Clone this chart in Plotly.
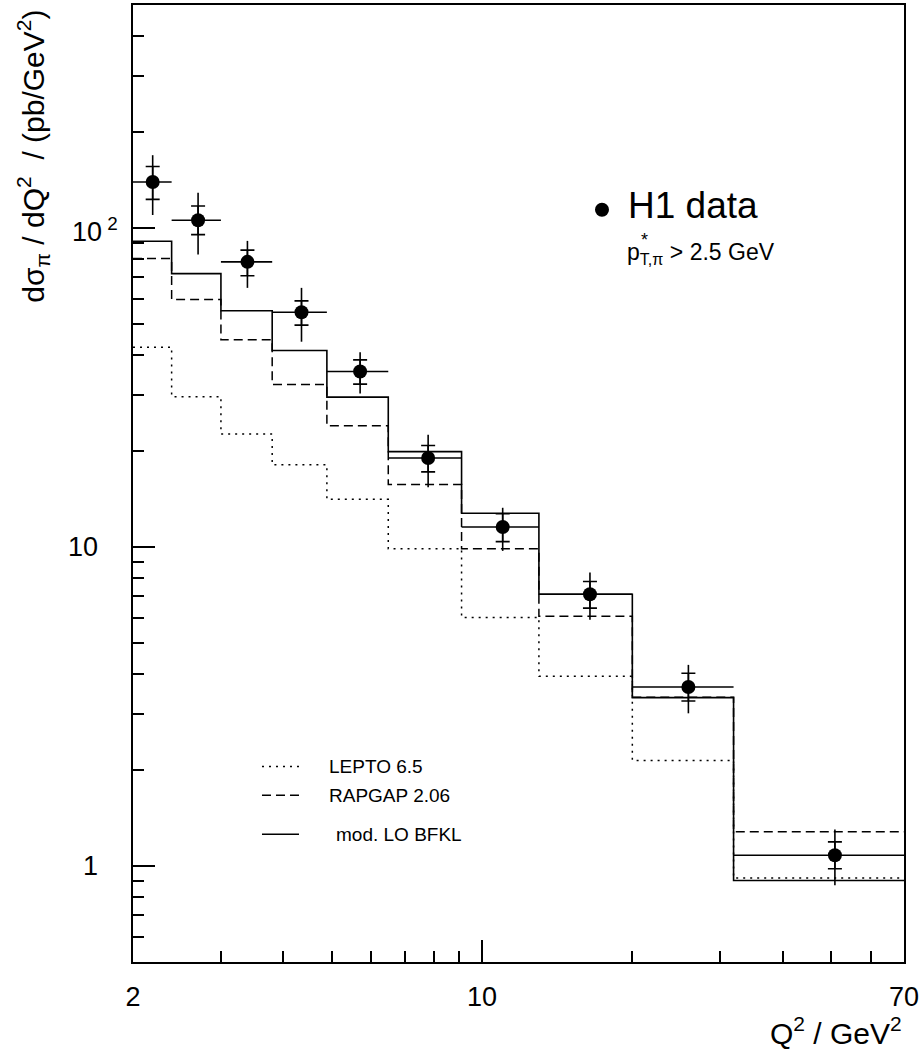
import numpy as np
import plotly.graph_objects as go

# ---------------- data ----------------
Q2_EDGES = [2.0, 2.39, 3.0, 3.8, 4.89, 6.49, 9.1, 13.0, 20.0, 31.9, 70.0]
Q2_DATA = [2.19, 2.70, 3.39, 4.35, 5.70, 7.80, 11.0, 16.45, 25.9, 50.9]
XSEC = [139.3, 105.7, 78.3, 54.4, 35.5, 19.0, 11.55, 7.11, 3.64, 1.08]
TOT_ERR_UP = [29.8, 23.2, 12.8, 10.5, 5.3, 3.5, 1.72, 1.20, 0.63, 0.22]
TOT_ERR_DN = [29.5, 23.2, 13.4, 10.4, 5.2, 3.6, 1.83, 1.20, 0.63, 0.21]
STAT_ERR_UP = [16.6, 11.5, 6.9, 4.7, 3.1, 1.8, 1.16, 0.68, 0.38, 0.11]
STAT_ERR_DN = [16.4, 10.4, 7.5, 4.8, 3.1, 1.8, 1.16, 0.68, 0.35, 0.10]

LEPTO = [42.3, 29.6, 22.6, 18.1, 14.1, 9.88, 6.01, 3.93, 2.14, 0.917]
RAPGAP = [80.2, 59.7, 44.6, 32.3, 24.0, 15.7, 9.88, 6.07, 3.38, 1.28]
BFKL = [90.9, 71.9, 55.0, 41.3, 29.5, 19.9, 12.75, 7.11, 3.37, 0.90]

MODEL_NAMES = ["LEPTO 6.5", "RAPGAP 2.06", "mod. LO BFKL"]

X_TICK_LABELS = [2, 10, 70]
X_MINOR_TICKS = [3, 4, 5, 6, 7, 8, 9, 20, 30, 40, 50, 60]
Y_TICK_LABELS = [1, 10, 100]
Y_MINOR_TICKS = [0.6, 0.7, 0.8, 0.9, 2, 3, 4, 5, 6, 7, 8, 9,
                 20, 30, 40, 50, 60, 70, 80, 90, 200, 300, 400]

X_RANGE = [2, 70]
Y_RANGE = [0.5, 500]

FONT = "Liberation Sans, Arial, Helvetica, sans-serif"

# ---------------- figure ----------------
fig = go.Figure()

edges = np.array(Q2_EDGES)
styles = [
    dict(color="black", width=1.5, dash="2px,5px"),
    dict(color="black", width=1.5, dash="9px,5px"),
    dict(color="black", width=1.6),
]
for name, vals, st in zip(MODEL_NAMES, [LEPTO, RAPGAP, BFKL], styles):
    yv = list(vals) + [vals[-1]]
    fig.add_trace(go.Scatter(
        x=edges, y=yv, mode="lines", line=dict(shape="hv", **st),
        name=name, showlegend=False, hoverinfo="skip"))

xd = np.array(Q2_DATA)
x_plus = edges[1:] - xd
x_minus = xd - edges[:-1]

# total error: full vertical line + bin-width horizontal bar
fig.add_trace(go.Scatter(
    x=Q2_DATA, y=XSEC, mode="markers",
    marker=dict(symbol="circle", size=14, color="black"),
    error_y=dict(type="data", symmetric=False, array=TOT_ERR_UP,
                 arrayminus=TOT_ERR_DN, width=0, thickness=1.6, color="black"),
    error_x=dict(type="data", symmetric=False, array=x_plus,
                 arrayminus=x_minus, width=0, thickness=1.6, color="black"),
    name="H1 data", showlegend=False))

# statistical error: small caps
fig.add_trace(go.Scatter(
    x=Q2_DATA, y=XSEC, mode="markers",
    marker=dict(size=2, opacity=0),
    error_y=dict(type="data", symmetric=False, array=STAT_ERR_UP,
                 arrayminus=STAT_ERR_DN, width=7, thickness=1.6, color="black"),
    showlegend=False, hoverinfo="skip"))

# ---------------- manual legend ----------------
leg_y = [0.2044, 0.1742, 0.1335]
leg_text_x = [0.2516, 0.2516, 0.2607]
for st, y, tx, name in zip(styles, leg_y, leg_text_x, MODEL_NAMES):
    fig.add_shape(type="line", xref="paper", yref="paper",
                  x0=0.1673, x1=0.2153, y0=y, y1=y, line=st)
    fig.add_annotation(text=name, xref="paper", yref="paper", x=tx, y=y,
                       xanchor="left", yanchor="middle", showarrow=False,
                       font=dict(family=FONT, size=19, color="black"))

# H1 data label
fig.add_shape(type="circle", xref="paper", yref="paper",
              xsizemode="pixel", ysizemode="pixel",
              xanchor=0.6083, yanchor=0.7860, x0=-7, x1=7, y0=-7, y1=7,
              fillcolor="black", line=dict(color="black", width=0))
fig.add_annotation(text="H1 data", xref="paper", yref="paper", x=0.6400, y=0.7900,
                   xanchor="left", yanchor="middle", showarrow=False,
                   font=dict(family=FONT, size=37, color="black"))
fig.add_annotation(text="p<sub>T,π</sub> > 2.5 GeV", xref="paper", yref="paper",
                   x=0.6380, y=0.7400, xanchor="left", yanchor="middle",
                   showarrow=False, font=dict(family=FONT, size=23, color="black"))
fig.add_annotation(text="*", xref="paper", yref="paper",
                   x=0.6630, y=0.7545, xanchor="center", yanchor="middle",
                   showarrow=False, font=dict(family=FONT, size=18, color="black"))

# y tick labels
for v in Y_TICK_LABELS:
    if v == 100:
        txt, xs = "10<sup> 2</sup>", -13
    else:
        txt, xs = str(v), -33
    fig.add_annotation(text=txt, xref="paper", yref="y", x=0, y=np.log10(v),
                       xanchor="right", yanchor="middle", xshift=xs,
                       yshift=(-2 if v == 100 else 0),
                       showarrow=False, font=dict(family=FONT, size=27, color="black"))

# axis titles
fig.add_annotation(text="dσ<sub>π</sub> / dQ<sup>2</sup>&nbsp; / (pb/GeV<sup>2</sup>)",
                   xref="paper", yref="paper", x=0, y=0.8415, xshift=-100,
                   xanchor="center", yanchor="middle", textangle=-90,
                   showarrow=False, font=dict(family=FONT, size=30, color="black"))
fig.add_annotation(text="Q<sup>2</sup> / GeV<sup>2</sup>",
                   xref="paper", yref="paper", x=1, y=-0.072,
                   xanchor="right", yanchor="middle",
                   showarrow=False, font=dict(family=FONT, size=30, color="black"))

fig.update_layout(
    width=922, height=1055,
    margin=dict(l=133, r=18, t=3, b=93),
    paper_bgcolor="white", plot_bgcolor="white",
    font=dict(family=FONT, color="black"),
    showlegend=False,
)
fig.update_xaxes(
    type="log", range=[np.log10(X_RANGE[0]), np.log10(X_RANGE[1])],
    showgrid=False, zeroline=False,
    showline=True, linecolor="black", linewidth=2, mirror=True,
    ticks="inside", ticklen=22, tickwidth=1.5, tickcolor="black",
    tickmode="array", tickvals=X_TICK_LABELS,
    ticktext=[str(v) for v in X_TICK_LABELS],
    tickfont=dict(family=FONT, size=27, color="black"),
    ticklabelstandoff=10,
    minor=dict(tickmode="array", tickvals=X_MINOR_TICKS, ticks="inside",
               ticklen=11, tickwidth=1.5, tickcolor="black", showgrid=False),
)
fig.update_yaxes(
    type="log", range=[np.log10(Y_RANGE[0]), np.log10(Y_RANGE[1])],
    showgrid=False, zeroline=False,
    showline=True, linecolor="black", linewidth=2, mirror=True,
    ticks="inside", ticklen=22, tickwidth=1.5, tickcolor="black",
    tickmode="array", tickvals=Y_TICK_LABELS, showticklabels=False,
    minor=dict(tickmode="array", tickvals=Y_MINOR_TICKS, ticks="inside",
               ticklen=11, tickwidth=1.5, tickcolor="black", showgrid=False),
)

fig.write_html("out.html",
               config={"displayModeBar": False},
               post_script="document.body.style.margin='0';"
                           "document.body.style.padding='0';")
